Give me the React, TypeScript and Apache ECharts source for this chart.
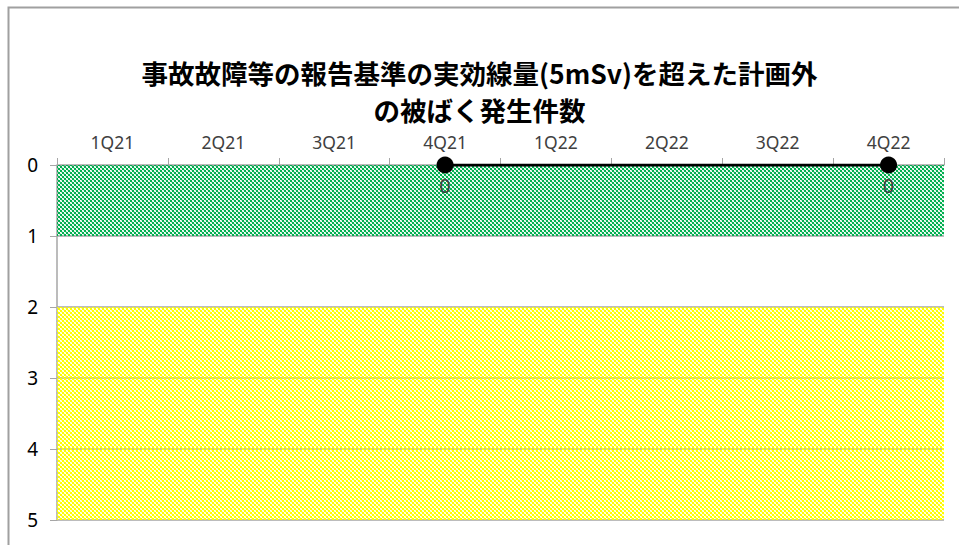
import React, { useEffect, useRef } from "react";
import * as echarts from "echarts";

const categories = ["1Q21", "2Q21", "3Q21", "4Q21", "1Q22", "2Q22", "3Q22", "4Q22"];
const counts: (number | null)[] = [null, null, null, 0, null, null, null, 0];
const yTicks = [0, 1, 2, 3, 4, 5];
const greenBand = [0, 1];
const yellowBand = [2, 5];
const titleLines = ["事故故障等の報告基準の実効線量(5mSv)を超えた計画外", "の被ばく発生件数"];

function makePattern(color: string, tint: string): string {
  const c = document.createElement("canvas");
  c.width = 4;
  c.height = 4;
  const ctx = c.getContext("2d")!;
  ctx.clearRect(0, 0, 4, 4);
  for (let x = 0; x < 4; x++) {
    for (let y = 0; y < 4; y++) {
      if ((x % 4 < 2) !== (y % 4 < 2)) {
        ctx.fillStyle = color;
        ctx.fillRect(x, y, 1, 1);
      } else if ((x + y) % 2 === 1) {
        ctx.fillStyle = tint;
        ctx.fillRect(x, y, 1, 1);
      }
    }
  }
  return c.toDataURL();
}

export default function App() {
  const ref = useRef<HTMLDivElement>(null);
  useEffect(() => {
    document.body.style.margin = "0";
    const chart = echarts.init(ref.current!, undefined, { renderer: "svg" });
    const greenImg = makePattern("#00B050", "rgba(0,176,80,0.25)");
    const yellowImg = makePattern("#FFFF00", "rgba(255,255,0,0.3)");
    const font = "'Noto Sans', 'Noto Sans CJK JP', sans-serif";
    const titleStyle = {
      fontFamily: "'Noto Sans CJK JP', sans-serif",
      fontSize: 26.5,
      fontWeight: "bold",
      color: "#000000",
      lineHeight: 34,
    };
    chart.setOption({
      animation: false,
      backgroundColor: "#ffffff",
      title: [
        { text: titleLines[0], left: "center", top: 55, padding: 0, textStyle: titleStyle },
        { text: titleLines[1], left: "center", top: 92, padding: 0, textStyle: titleStyle },
      ],
      graphic: [
        {
          type: "rect",
          shape: { x: 8.5, y: 7.5, width: 1000, height: 600 },
          style: { fill: "none", stroke: "#A0A0A0", lineWidth: 2 },
          silent: true,
        },
      ],
      grid: { left: 57, right: 15, top: 165, bottom: 25 },
      xAxis: {
        type: "category",
        data: categories,
        position: "top",
        boundaryGap: true,
        axisLine: { show: true, lineStyle: { color: "#A6A6A6", width: 1 } },
        axisTick: { show: true, length: 7, lineStyle: { color: "#A6A6A6" } },
        axisLabel: { color: "#404040", fontSize: 17.5, lineHeight: 18, fontFamily: font, margin: 14 },
        splitLine: { show: false },
      },
      yAxis: {
        type: "value",
        inverse: true,
        min: yTicks[0],
        max: yTicks[yTicks.length - 1],
        interval: 1,
        axisLine: { show: true, lineStyle: { color: "#A6A6A6", width: 1.5 } },
        axisTick: { show: true, length: 7, lineStyle: { color: "#A6A6A6" } },
        axisLabel: { color: "#000000", fontSize: 19, fontFamily: font, margin: 19 },
        splitLine: { show: true, lineStyle: { color: "#A6A6A6", width: 1.5 } },
      },
      series: [
        {
          type: "line",
          data: counts,
          connectNulls: true,
          symbol: "circle",
          symbolSize: 17,
          itemStyle: { color: "#000000" },
          lineStyle: { color: "#000000", width: 3 },
          label: {
            show: true,
            position: "bottom",
            distance: 2,
            color: "#404040",
            fontSize: 20,
            fontFamily: font,
          },
          z: 5,
          markArea: {
            silent: true,
            data: [
              [
                { yAxis: greenBand[0], itemStyle: { color: { image: greenImg, repeat: "repeat" } } },
                { yAxis: greenBand[1] },
              ],
              [
                { yAxis: yellowBand[0], itemStyle: { color: { image: yellowImg, repeat: "repeat" } } },
                { yAxis: yellowBand[1] },
              ],
            ],
          },
        },
      ],
    });
    return () => chart.dispose();
  }, []);
  return <div ref={ref} style={{ width: 959, height: 545 }} />;
}
